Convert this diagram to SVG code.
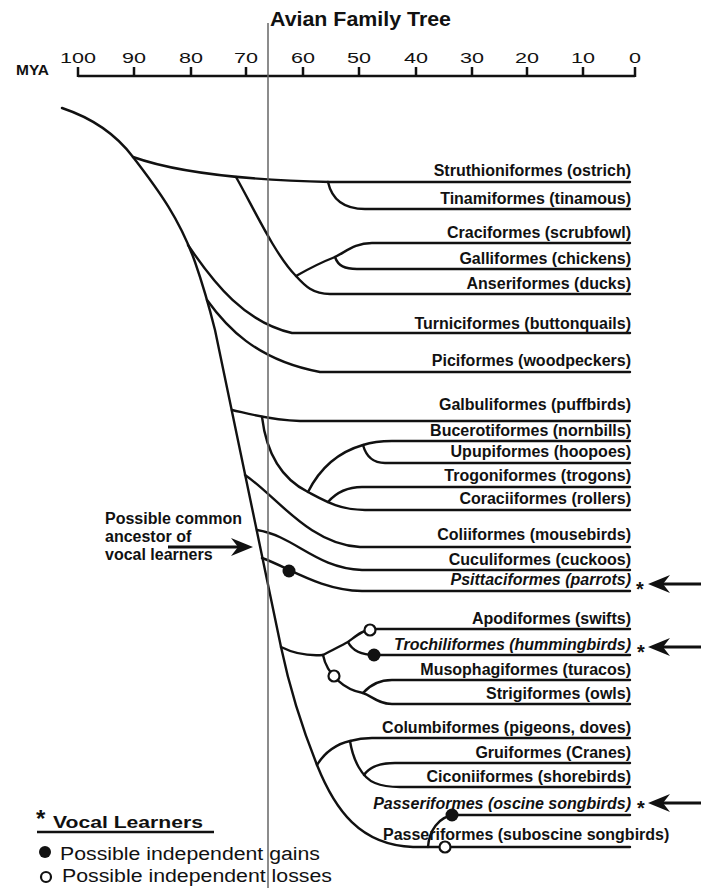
<svg xmlns="http://www.w3.org/2000/svg" width="701" height="888" viewBox="0 0 701 888">
<style>
text{font-family:"Liberation Sans",Arial,sans-serif;fill:#111}
.lbl{font-size:16px;font-weight:bold;text-anchor:end}
.it{font-style:italic}
.num{font-size:15px;text-anchor:middle}
.br{fill:none;stroke:#111;stroke-width:2.4;stroke-linecap:round;stroke-linejoin:round}
.ax{fill:none;stroke:#111;stroke-width:2.5}
.arr{fill:none;stroke:#111;stroke-width:3}
.gain{fill:#111}
.loss{fill:#fff;stroke:#111;stroke-width:2.2}
.star{font-size:20px;font-weight:bold}
</style>
<defs>
<marker id="ah" viewBox="0 0 22 18" refX="17" refY="9" markerWidth="22" markerHeight="18" markerUnits="userSpaceOnUse" orient="auto">
<path d="M22,9 L0,0 L7,9 L0,18 Z" fill="#111"/>
</marker>
</defs>
<rect width="701" height="888" fill="#fff"/>

<g id="title"><text x="270" y="26" font-size="20" font-weight="bold" textLength="181" lengthAdjust="spacingAndGlyphs">Avian Family Tree</text></g>

<g id="axis">
<text x="16" y="75" font-size="14" font-weight="bold" textLength="33" lengthAdjust="spacingAndGlyphs">MYA</text>
<path class="ax" d="M78,76 H635 M78,67 V77 M134,67 V77 M191,67 V77 M246,67 V77 M303,67 V77 M359,67 V77 M416,67 V77 M472,67 V77 M527,67 V77 M583,67 V77 M635,67 V77"/>
<text class="num" x="78" y="63" textLength="36" lengthAdjust="spacingAndGlyphs">100</text>
<text class="num" x="134" y="63" textLength="24" lengthAdjust="spacingAndGlyphs">90</text>
<text class="num" x="191" y="63" textLength="24" lengthAdjust="spacingAndGlyphs">80</text>
<text class="num" x="246" y="63" textLength="24" lengthAdjust="spacingAndGlyphs">70</text>
<text class="num" x="303" y="63" textLength="24" lengthAdjust="spacingAndGlyphs">60</text>
<text class="num" x="359" y="63" textLength="24" lengthAdjust="spacingAndGlyphs">50</text>
<text class="num" x="416" y="63" textLength="24" lengthAdjust="spacingAndGlyphs">40</text>
<text class="num" x="472" y="63" textLength="24" lengthAdjust="spacingAndGlyphs">30</text>
<text class="num" x="527" y="63" textLength="24" lengthAdjust="spacingAndGlyphs">20</text>
<text class="num" x="583" y="63" textLength="24" lengthAdjust="spacingAndGlyphs">10</text>
<text class="num" x="635" y="63" textLength="12" lengthAdjust="spacingAndGlyphs">0</text>
</g>

<g id="connectors">
<path class="br" d="M62,108 C92,118 115,133 133,157 C160,192 180,220 195,262 C203,285 210,310 215,330 L281,647 C290,690 305,735 317,765 C335,810 360,845 413,847 L630,847"/>
<path class="br" d="M133,157 C175,172 240,180 330,182 L630,182"/>
<path class="br" d="M328,182 C332,200 345,209 365,209 L630,209"/>
<path class="br" d="M236,177 C252,205 275,255 296,276 C305,286 313,294 330,294 L630,294"/>
<path class="br" d="M296,276 C310,268 322,262 335,257 C347,251 355,243 372,243 L630,243"/>
<path class="br" d="M335,257 C338,266 345,269 357,269 L630,269"/>
<path class="br" d="M188,245 C215,285 245,322 292,333 L630,333"/>
<path class="br" d="M207,300 C225,325 255,360 320,372 L630,372"/>
<path class="br" d="M232,410 C250,414 270,420 300,421 L630,421"/>
<path class="br" d="M262,417 C266,450 280,478 308,492 C325,501 340,510 365,510 L630,510"/>
<path class="br" d="M308,492 C318,472 335,453 363,445 C372,442 380,441 392,441 L630,441"/>
<path class="br" d="M363,445 C366,456 372,463 385,463 L630,463"/>
<path class="br" d="M328,502 C335,494 345,487 362,487 L630,487"/>
<path class="br" d="M245,475 C275,495 310,545 360,547 L630,547"/>
<path class="br" d="M257,530 C295,536 315,568 362,570 L630,570"/>
<path class="br" d="M262,558 C290,568 320,590 362,591 L630,591"/>
<path class="br" d="M281,647 C295,654 310,656 323,655"/>
<path class="br" d="M323,655 C333,650 340,646 348,642 C355,637 362,630 372,629 L630,629"/>
<path class="br" d="M348,642 C352,650 360,655 375,655 L630,655"/>
<path class="br" d="M323,655 C327,675 345,690 363,693 C372,696 378,704 392,704 L630,704"/>
<path class="br" d="M363,693 C370,685 378,680 392,680 L630,680"/>
<path class="br" d="M317,765 C325,752 337,744 350,741 C357,739 362,738 372,738 L630,738"/>
<path class="br" d="M350,741 C353,760 362,778 375,783 C382,786 390,787 400,787 L630,787"/>
<path class="br" d="M364,775 C370,766 380,763 395,763 L630,763"/>
<path class="br" d="M428,847 C429,832 438,816 455,815 L630,815"/>
<line class="arr" x1="168" y1="547" x2="248" y2="547" marker-end="url(#ah)"/>
<line class="arr" x1="701" y1="584" x2="653" y2="584" marker-end="url(#ah)"/>
<line class="arr" x1="701" y1="647" x2="653" y2="647" marker-end="url(#ah)"/>
<line class="arr" x1="701" y1="803" x2="653" y2="803" marker-end="url(#ah)"/>
</g>

<g id="kpg-boundary"><line x1="268" y1="23" x2="268" y2="888" stroke="#666" stroke-width="1.5"/></g>

<g id="events">
<circle class="gain" cx="289" cy="571" r="6.5"/>
<circle class="gain" cx="374" cy="655" r="6.5"/>
<circle class="gain" cx="452" cy="815" r="6.5"/>
<circle class="loss" cx="370" cy="630" r="5.5"/>
<circle class="loss" cx="334" cy="676" r="5.5"/>
<circle class="loss" cx="445" cy="847" r="5.5"/>
</g>

<g id="n-struthioniformes"><text class="lbl" x="631" y="176">Struthioniformes (ostrich)</text></g>
<g id="n-tinamiformes"><text class="lbl" x="631" y="204">Tinamiformes (tinamous)</text></g>
<g id="n-craciformes"><text class="lbl" x="631" y="238">Craciformes (scrubfowl)</text></g>
<g id="n-galliformes"><text class="lbl" x="631" y="264">Galliformes (chickens)</text></g>
<g id="n-anseriformes"><text class="lbl" x="631" y="289">Anseriformes (ducks)</text></g>
<g id="n-turniciformes"><text class="lbl" x="631" y="329">Turniciformes (buttonquails)</text></g>
<g id="n-piciformes"><text class="lbl" x="631" y="366">Piciformes (woodpeckers)</text></g>
<g id="n-galbuliformes"><text class="lbl" x="631" y="410">Galbuliformes (puffbirds)</text></g>
<g id="n-bucerotiformes"><text class="lbl" x="631" y="436">Bucerotiformes (nornbills)</text></g>
<g id="n-upupiformes"><text class="lbl" x="631" y="457">Upupiformes (hoopoes)</text></g>
<g id="n-trogoniformes"><text class="lbl" x="631" y="481">Trogoniformes (trogons)</text></g>
<g id="n-coraciiformes"><text class="lbl" x="631" y="504">Coraciiformes (rollers)</text></g>
<g id="n-coliiformes"><text class="lbl" x="631" y="540">Coliiformes (mousebirds)</text></g>
<g id="n-cuculiformes"><text class="lbl" x="631" y="565">Cuculiformes (cuckoos)</text></g>
<g id="n-psittaciformes"><text class="lbl it" x="631" y="585">Psittaciformes (parrots)</text><text class="star" x="636" y="596">*</text></g>
<g id="n-apodiformes"><text class="lbl" x="631" y="624">Apodiformes (swifts)</text></g>
<g id="n-trochiliformes"><text class="lbl it" x="631" y="650">Trochiliformes (hummingbirds)</text><text class="star" x="637" y="659">*</text></g>
<g id="n-musophagiformes"><text class="lbl" x="631" y="675">Musophagiformes (turacos)</text></g>
<g id="n-strigiformes"><text class="lbl" x="631" y="699">Strigiformes (owls)</text></g>
<g id="n-columbiformes"><text class="lbl" x="631" y="733">Columbiformes (pigeons, doves)</text></g>
<g id="n-gruiformes"><text class="lbl" x="631" y="758">Gruiformes (Cranes)</text></g>
<g id="n-ciconiiformes"><text class="lbl" x="631" y="782">Ciconiiformes (shorebirds)</text></g>
<g id="n-passeriformes-oscine"><text class="lbl it" x="631" y="809">Passeriformes (oscine songbirds)</text><text class="star" x="637" y="815">*</text></g>
<g id="n-passeriformes-suboscine"><text x="383" y="840" font-size="16" font-weight="bold">Passeriformes (suboscine songbirds)</text></g>

<g id="ancestor-note" font-size="16" font-weight="bold">
<text x="105" y="524">Possible common</text>
<text x="105" y="542">ancestor of</text>
<text x="105" y="560">vocal learners</text>
</g>

<g id="legend">
<text x="36" y="827" font-size="24" font-weight="bold">*</text>
<text x="53" y="828" font-size="17" font-weight="bold" textLength="150" lengthAdjust="spacingAndGlyphs">Vocal Learners</text>
<line x1="37" y1="832" x2="214" y2="832" stroke="#111" stroke-width="2.5"/>
<circle class="gain" cx="45" cy="852" r="6"/>
<text x="60" y="860" font-size="18" textLength="260" lengthAdjust="spacingAndGlyphs">Possible independent gains</text>
<circle class="loss" cx="46" cy="877" r="5"/>
<text x="62" y="882" font-size="18" textLength="270" lengthAdjust="spacingAndGlyphs">Possible independent losses</text>
</g>
</svg>
